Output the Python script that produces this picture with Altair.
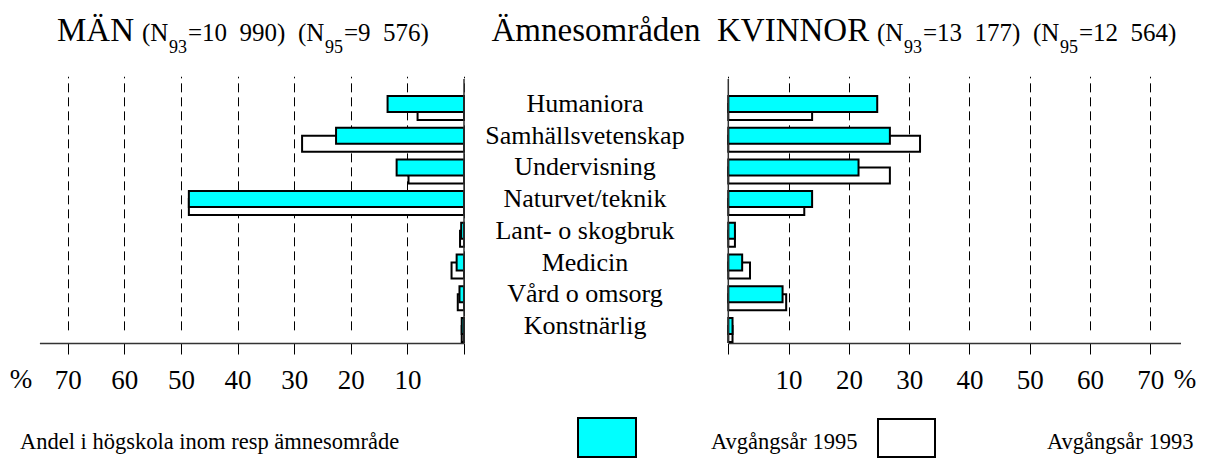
import altair as alt
import pandas as pd

# ---------------- data ----------------
categories = ["Humaniora", "Samhällsvetenskap", "Undervisning", "Naturvet/teknik",
              "Lant- o skogbruk", "Medicin", "Vård o omsorg", "Konstnärlig"]
men_1995 = [13.5, 22.6, 11.9, 48.6, 0.5, 1.3, 0.8, 0.4]
men_1993 = [8.2, 28.6, 9.8, 48.6, 0.7, 2.2, 1.1, 0.4]
women_1995 = [24.7, 26.8, 21.6, 13.9, 1.1, 2.3, 9.0, 0.7]
women_1993 = [13.9, 31.8, 26.8, 12.6, 1.1, 3.6, 9.6, 0.7]
axis_ticks = [0, 10, 20, 30, 40, 50, 60, 70]

FONT = "Liberation Serif"
CYAN = "#00FFFF"

rows = []
for i, c in enumerate(categories):
    rows.append(dict(category=c, panel="men", year="1995", value=men_1995[i]))
    rows.append(dict(category=c, panel="men", year="1993", value=men_1993[i]))
    rows.append(dict(category=c, panel="women", year="1995", value=women_1995[i]))
    rows.append(dict(category=c, panel="women", year="1993", value=women_1993[i]))
df = pd.DataFrame(rows)
one = pd.DataFrame({"k": [0]})

W, H = 1190, 264
yscale = alt.Scale(domain=categories, range=[13.15, 266.75], paddingInner=0, paddingOuter=0)
left_scale = alt.Scale(domain=[0, 75], range=[456, 31.4], nice=False)
right_scale = alt.Scale(domain=[0, 75], range=[720.3, 1172.5], nice=False)


def make_axis():
    return alt.Axis(orient="bottom", values=axis_ticks,
                    labelExpr="datum.value == 0 ? '' : datum.label",
                    grid=True, gridDash=[9, 5], gridColor="black", gridWidth=1,
                    ticks=True, tickSize=11, tickColor="black", tickWidth=1,
                    domain=True, domainColor="#333", domainWidth=1.5,
                    labelFont=FONT, labelFontSize=27, labelColor="black",
                    labelPadding=13, labelFlush=False, labelOverlap=False, title=None)


def bars(panel, year, scale, show_axis):
    fill = CYAN if year == "1995" else "white"
    off = -4 if year == "1995" else 4
    return alt.Chart(df).transform_filter(
        f"datum.panel == '{panel}' && datum.year == '{year}'"
    ).mark_bar(size=16, yOffset=off, fill=fill, stroke="black", strokeWidth=2).encode(
        x=alt.X("value:Q", scale=scale, axis=make_axis() if show_axis else None),
        y=alt.Y("category:N", scale=yscale, axis=None, sort=categories),
    )


def zero_rule(scale):
    return alt.Chart(one).mark_rule(color="#333", strokeWidth=1.5).encode(
        x=alt.XDatum(0, scale=scale, axis=None)
    )


def label(text, x, y, size, align="left"):
    return alt.Chart(one).mark_text(text=text, font=FONT, fontSize=size, align=align,
                                    baseline="alphabetic", color="black").encode(
        x=alt.value(x), y=alt.value(y))


def box(x, x2, y, y2, fill):
    return alt.Chart(one).mark_rect(fill=fill, stroke="black", strokeWidth=2).encode(
        x=alt.value(x), x2=alt.value(x2), y=alt.value(y), y2=alt.value(y2))


cat_labels = alt.Chart(pd.DataFrame({"category": categories})).mark_text(
    font=FONT, fontSize=26, align="center", baseline="alphabetic", dy=4, color="black"
).encode(
    y=alt.Y("category:N", scale=yscale, axis=None, sort=categories),
    x=alt.value(577),
    text="category:N",
)

TY, SY = -38, -26
titles = [
    label("MÄN", 49, TY, 33),
    label("(N", 134, TY, 25),
    label("93", 161, SY, 18),
    label("=10\u2002990)\u2002(N", 180, TY, 25),
    label("95", 317, SY, 18),
    label("=9\u2002576)", 336, TY, 25),
    label("Ämnesområden", 588, TY, 33, "center"),
    label("KVINNOR", 709, TY, 33),
    label("(N", 869, TY, 25),
    label("93", 896, SY, 18),
    label("=13\u2002177)\u2002(N", 915, TY, 25),
    label("95", 1052, SY, 18),
    label("=12\u2002564)", 1071, TY, 25),
    label("%", 13, 309, 27, "center"),
    label("%", 1177, 309, 27, "center"),
]

LY = 370
LF = 22.5
legend = [
    label("Andel i högskola inom resp ämnesområde", 12, LY, LF),
    box(570, 628, 339, 378, CYAN),
    label("Avgångsår 1995", 703, LY, LF),
    box(870, 927, 340, 378, "white"),
    label("Avgångsår 1993", 1039, LY, LF),
]

chart = alt.layer(
    bars("men", "1993", left_scale, True),
    bars("men", "1995", left_scale, False),
    bars("women", "1993", right_scale, True),
    bars("women", "1995", right_scale, False),
    zero_rule(left_scale),
    zero_rule(right_scale),
    cat_labels,
    *titles,
    *legend,
).resolve_scale(x="independent").properties(
    width=W, height=H,
    autosize=alt.AutoSizeParams(type="none"),
    padding={"left": 0, "top": 71, "right": 0, "bottom": 117},
).configure_view(stroke=None)

chart.save("out.html", embed_options={"renderer": "svg", "actions": False})
